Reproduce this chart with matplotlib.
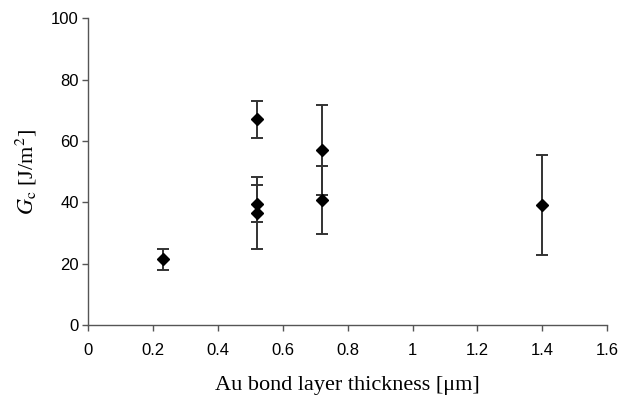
import matplotlib
matplotlib.use("Agg")
import matplotlib.pyplot as plt

# Au bond layer thickness [um] and fracture energy Gc [J/m^2]
thickness = [0.23, 0.52, 0.52, 0.52, 0.72, 0.72, 1.40]
gc = [21.5, 67.0, 39.6, 36.6, 57.1, 40.8, 39.1]
gc_err = [3.4, 5.9, 6.0, 11.7, 14.6, 11.1, 16.2]

x_ticks = [0, 0.2, 0.4, 0.6, 0.8, 1.0, 1.2, 1.4, 1.6]
x_tick_labels = ["0", "0.2", "0.4", "0.6", "0.8", "1", "1.2", "1.4", "1.6"]
y_ticks = [0, 20, 40, 60, 80, 100]

plt.rcParams["mathtext.fontset"] = "stix"

fig = plt.figure(figsize=(6.28, 3.96), dpi=100)
ax = fig.add_axes([0.140, 0.179, 0.827, 0.775])

ax.errorbar(thickness, gc, yerr=gc_err, fmt="D", color="black",
            markersize=6.3, ecolor="#333333", elinewidth=1.4,
            capsize=4.5, capthick=1.4, zorder=3)

ax.set_xlim(0, 1.6)
ax.set_ylim(0, 100)
ax.set_xticks(x_ticks)
ax.set_xticklabels(x_tick_labels)
ax.set_yticks(y_ticks)

for s in ("top", "right"):
    ax.spines[s].set_visible(False)
for s in ("left", "bottom"):
    ax.spines[s].set_color("#555555")
    ax.spines[s].set_linewidth(1.0)
ax.tick_params(direction="out", length=4, width=1.0, color="#555555",
               labelsize=12)
ax.tick_params(axis="y", pad=2.5)
ax.tick_params(axis="x", pad=9)
for lab in ax.get_xticklabels() + ax.get_yticklabels():
    lab.set_family("Liberation Sans")

ax.set_xlabel("Au bond layer thickness [\u03bcm]", family="Liberation Serif",
              fontsize=16, labelpad=13)
ax.set_ylabel(r"$G_\mathrm{c}$ [J/m$^2$]", family="Liberation Serif",
              fontsize=16)
ax.yaxis.set_label_coords(-0.094, 0.5)

fig.savefig("out.png", dpi=100)
